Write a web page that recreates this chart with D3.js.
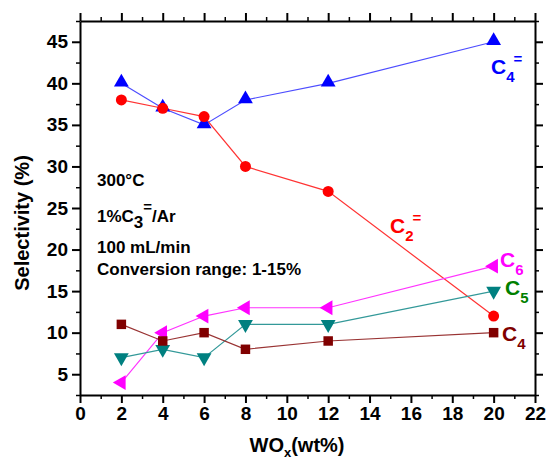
<!DOCTYPE html>
<html>
<head>
<meta charset="utf-8">
<script src="https://cdn.jsdelivr.net/npm/d3@7"></script>
<style>
  body { margin: 0; background: #fff; }
  svg text { font-family: Arial, "Liberation Sans", sans-serif; font-weight: bold; }
</style>
</head>
<body>
<div id="chart"></div>
<script>
// data
const wox = [2, 4, 6, 8, 12, 20];
const c4ene = [40, 37, 35, 38, 40, 45];
const c2ene = [38, 37, 36, 30, 27, 12];
const c6 = [4, 10, 12, 13, 13, 18];
const c5 = [7, 8, 7, 11, 11, 15];
const c4 = [11, 9, 10, 8, 9, 10];
const xTicks = d3.range(0, 23, 2);
const yTicks = [5, 10, 15, 20, 25, 30, 35, 40, 45];

const W = 548, H = 459;
const margin = { left: 80, right: 13, top: 21, bottom: 64 };

const svg = d3.select('#chart').append('svg')
  .attr('width', W)
  .attr('height', H);

const x = d3.scaleLinear().domain([0, 22]).range([margin.left, W - margin.right]);
const y = d3.scaleLinear().domain([2.5, 47.5]).range([H - margin.bottom, margin.top]);

const series = [
  { name: 'c4ene', values: c4ene, color: '#0000ff', line: '#4d4dff', symbol: d3.symbolTriangle, size: 95, rotate: 0, dy: -1 },
  { name: 'c2ene', values: c2ene, color: '#ff0000', line: '#ff3333', symbol: d3.symbolCircle, size: 95, rotate: 0, dy: 0 },
  { name: 'c6', values: c6, color: '#ff00ff', line: '#ff33ff', symbol: d3.symbolTriangle, size: 95, rotate: -90, dy: 0 },
  { name: 'c5', values: c5, color: '#008080', line: '#339999', symbol: d3.symbolTriangle, size: 95, rotate: 180, dy: 0 },
  { name: 'c4', values: c4, color: '#800000', line: '#993333', symbol: d3.symbolSquare, size: 90, rotate: 0, dy: 0 }
];

// axes: bottom / left labelled, top / right ticks only
function drawAxis(axisFn, scale, ticks, minor, transform, labels) {
  svg.append('g')
    .attr('transform', transform)
    .call(axisFn(scale).tickValues(minor).tickSize(4).tickFormat(''))
    .call(g => g.select('.domain').remove())
    .call(g => g.selectAll('line').attr('stroke-width', 1.5));
  let a = svg.append('g')
    .attr('transform', transform)
    .call(axisFn(scale).tickValues(ticks).tickSize(8).tickSizeOuter(0).tickPadding(4)
      .tickFormat(labels ? d3.format('d') : ''));
  a.select('.domain').attr('stroke-width', 2);
  a.selectAll('line').attr('stroke-width', 2);
  a.selectAll('text').attr('font-size', 19).attr('fill', '#000');
  return a;
}

const xMinor = d3.range(1, 23, 2);
const yMinor = d3.range(2.5, 48, 5);
drawAxis(d3.axisBottom, x, xTicks, xMinor, `translate(0,${H - margin.bottom})`, true);
drawAxis(d3.axisTop, x, xTicks, xMinor, `translate(0,${margin.top})`, false);
drawAxis(d3.axisLeft, y, yTicks, yMinor, `translate(${margin.left},0)`, true);
drawAxis(d3.axisRight, y, yTicks, yMinor, `translate(${W - margin.right},0)`, false);

// axis titles
svg.append('text')
  .attr('transform', `translate(29,223) rotate(-90)`)
  .attr('text-anchor', 'middle')
  .attr('font-size', 20)
  .text('Selectivity (%)');

const xt = svg.append('text')
  .attr('x', 297)
  .attr('y', 452)
  .attr('text-anchor', 'middle')
  .attr('font-size', 20);
xt.append('tspan').text('WO');
xt.append('tspan').attr('font-size', 13).attr('dy', 5).text('x');
xt.append('tspan').attr('dy', -5).text('(wt%)');

// lines and markers
const line = d3.line()
  .x((d, i) => x(wox[i]))
  .y(d => y(d));

series.forEach(s => {
  svg.append('path')
    .datum(s.values)
    .attr('fill', 'none')
    .attr('stroke', s.line)
    .attr('stroke-width', 1.2)
    .attr('d', line);
});

series.forEach(s => {
  svg.append('g').selectAll('path')
    .data(s.values)
    .join('path')
    .attr('d', d3.symbol(s.symbol, s.size))
    .attr('transform', (d, i) => `translate(${x(wox[i])},${y(d) + s.dy}) rotate(${s.rotate})`)
    .attr('fill', s.color);
});

// series labels
function seriesLabel(px, py, sub, sup, color) {
  let t = svg.append('text')
    .attr('x', px)
    .attr('y', py)
    .attr('font-size', 21)
    .attr('fill', color);
  t.append('tspan').text('C');
  t.append('tspan').attr('font-size', 15).attr('dy', 8).text(sub);
  if (sup) {
    t.append('tspan').attr('font-size', 15).attr('dy', -18).attr('dx', -1).text(sup);
  }
}
seriesLabel(491, 74, '4', '=', '#0000ff');
seriesLabel(390, 233, '2', '=', '#ff0000');
seriesLabel(500, 267, '6', null, '#ff00ff');
seriesLabel(505, 295, '5', null, '#008000');
seriesLabel(502, 341, '4', null, '#800000');

// condition notes
const notes = svg.append('g').attr('font-size', 17);
notes.append('text').attr('x', 97).attr('y', 186).text('300\u00b0C');
const n2 = notes.append('text').attr('x', 97).attr('y', 222);
n2.append('tspan').text('1%C');
n2.append('tspan').attr('font-size', 17).attr('dy', 6).text('3');
n2.append('tspan').attr('font-size', 15).attr('dy', -16).text('=');
n2.append('tspan').attr('dy', 10).text('/Ar');
notes.append('text').attr('x', 97).attr('y', 253).text('100 mL/min');
notes.append('text').attr('x', 97).attr('y', 275).text('Conversion range: 1-15%');
</script>
</body>
</html>
